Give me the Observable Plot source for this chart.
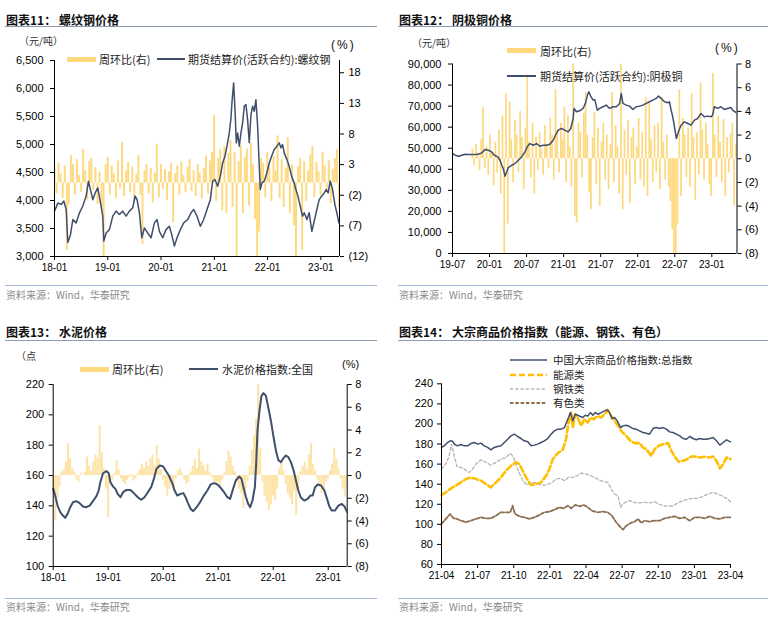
<!DOCTYPE html>
<html><head><meta charset="utf-8">
<script src="https://cdn.jsdelivr.net/npm/d3@7"></script>
<script src="https://cdn.jsdelivr.net/npm/@observablehq/plot@0.6"></script>
<style>
html,body{margin:0;padding:0;background:#fff;}
#root{position:relative;width:778px;height:618px;overflow:hidden;background:#fff;}
.t{position:absolute;white-space:nowrap;line-height:1;transform:translateY(-50%);}
.abs{position:absolute;}
</style></head><body><div id="root"></div>
<script>
// ===== Panel 11: rebar =====
const rebarPrice = [[2018.000,3810],[2018.063,3955],[2018.125,3930],[2018.175,3990],[2018.219,3840],[2018.250,3250],[2018.300,3390],[2018.344,3660],[2018.406,3600],[2018.469,3780],[2018.531,3900],[2018.594,4080],[2018.638,4345],[2018.675,4195],[2018.719,4015],[2018.763,4135],[2018.813,4225],[2018.863,3960],[2018.906,3720],[2018.925,3275],[2018.969,3420],[2019.031,3480],[2019.094,3720],[2019.156,3810],[2019.219,3750],[2019.281,3810],[2019.344,3720],[2019.406,3810],[2019.469,3870],[2019.513,4080],[2019.550,4015],[2019.594,3780],[2019.638,3335],[2019.688,3510],[2019.750,3420],[2019.813,3335],[2019.875,3600],[2019.925,3660],[2019.969,3450],[2020.031,3335],[2020.094,3480],[2020.156,3540],[2020.200,3395],[2020.250,3185],[2020.300,3335],[2020.363,3480],[2020.425,3600],[2020.500,3660],[2020.563,3780],[2020.613,3840],[2020.675,3720],[2020.738,3540],[2020.800,3660],[2020.863,3840],[2020.925,4015],[2020.969,4345],[2021.013,4375],[2021.063,4255],[2021.113,4435],[2021.156,4670],[2021.200,4790],[2021.238,4970],[2021.281,5205],[2021.313,5475],[2021.331,5745],[2021.363,6100],[2021.388,5625],[2021.413,5030],[2021.438,5205],[2021.469,4970],[2021.500,5205],[2021.531,5385],[2021.563,5685],[2021.594,5715],[2021.625,5445],[2021.656,5030],[2021.688,5535],[2021.719,5685],[2021.750,5595],[2021.781,5800],[2021.813,5325],[2021.844,4610],[2021.863,4195],[2021.894,4315],[2021.938,4345],[2021.988,4495],[2022.031,4670],[2022.075,4790],[2022.125,4910],[2022.175,4970],[2022.219,5030],[2022.250,4940],[2022.281,5000],[2022.313,4850],[2022.363,4730],[2022.406,4610],[2022.450,4435],[2022.500,4315],[2022.531,4195],[2022.563,4105],[2022.613,3900],[2022.656,3720],[2022.688,3780],[2022.738,3660],[2022.781,3780],[2022.831,3450],[2022.875,3630],[2022.925,3840],[2022.969,4015],[2023.013,4075],[2023.063,4135],[2023.100,4195],[2023.138,4135],[2023.175,4350],[2023.219,4200],[2023.263,3930],[2023.300,3780],[2023.338,3600]];
const rebarWoW = [2.5,-1.8,3.2,1.5,-2.5,2.8,-11.0,-3.5,4.5,3.0,
-2.0,3.8,1.2,-1.5,5.5,2.0,-2.8,3.5,4.0,-1.2,
2.5,-3.5,1.8,-4.0,-12.0,3.0,4.2,-2.0,2.8,1.5,
-2.5,3.6,-1.0,6.6,-2.2,2.0,3.4,-1.6,2.6,-3.0,
1.4,4.5,-2.0,-10.0,2.0,3.0,-1.8,2.4,-3.2,1.6,
6.3,-2.4,3.0,-1.0,2.2,-2.8,1.8,3.2,-6.5,1.5,
2.8,-2.0,3.4,1.2,-1.6,2.6,3.8,-1.4,2.0,-2.2,
3.0,1.6,-2.6,2.4,4.4,-1.8,3.6,5.0,11.0,-3.0,
4.0,5.5,-4.5,6.0,-5.0,4.8,7.0,-4.0,5.0,-12.0,
3.5,6.0,-5.0,4.2,5.5,-3.8,6.5,3.0,-6.0,-12.0,
-8.0,4.0,3.2,-2.4,5.0,2.6,-3.0,4.4,2.0,7.7,
-2.5,3.8,-4.0,2.4,7.4,-5.0,3.0,-7.0,-12.0,2.6,
4.0,-11.0,3.5,-3.0,2.0,4.6,6.0,-2.4,3.4,1.8,
-2.0,5.0,2.8,-1.6,3.6,-3.4,2.2,4.0,5.5,-4.0];
const rebarXTicks = [2018,2019,2020,2021,2022,2023];
const rebarXLabels = ["18-01","19-01","20-01","21-01","22-01","23-01"];
const rebarRTicks = [18,13,8,3,-2,-7,-12];
const rebarRLabels = ["18","13","8","3","(2)","(7)","(12)"];

// ===== Panel 12: copper =====
const copperPrice = [[2019.500,47460],[2019.536,46670],[2019.581,46190],[2019.626,46670],[2019.670,47140],[2019.715,46980],[2019.783,46980],[2019.850,47140],[2019.895,47780],[2019.939,49370],[2019.984,49050],[2020.029,48250],[2020.065,46670],[2020.096,46190],[2020.119,45560],[2020.141,44290],[2020.164,41900],[2020.186,40320],[2020.209,36670],[2020.231,38730],[2020.253,40790],[2020.298,41900],[2020.343,42700],[2020.388,44290],[2020.433,45870],[2020.478,48250],[2020.513,50950],[2020.545,52220],[2020.590,51430],[2020.635,52220],[2020.679,50950],[2020.724,51430],[2020.769,51430],[2020.814,51900],[2020.859,53810],[2020.890,56190],[2020.926,58570],[2020.971,59370],[2021.016,58570],[2021.061,57780],[2021.096,59370],[2021.128,64130],[2021.141,68890],[2021.173,67300],[2021.217,67780],[2021.262,68890],[2021.294,71270],[2021.321,75240],[2021.339,76830],[2021.365,74760],[2021.397,72860],[2021.419,73170],[2021.455,68100],[2021.487,68890],[2021.531,69680],[2021.576,70480],[2021.621,68890],[2021.666,69680],[2021.711,69680],[2021.756,71270],[2021.778,76030],[2021.800,71270],[2021.845,70480],[2021.890,70000],[2021.935,68410],[2021.980,69680],[2022.025,70000],[2022.070,70480],[2022.114,71270],[2022.159,72060],[2022.204,72860],[2022.249,73650],[2022.280,74760],[2022.316,73650],[2022.361,72060],[2022.406,71590],[2022.428,72060],[2022.451,68100],[2022.473,64920],[2022.496,60160],[2022.522,54600],[2022.549,57780],[2022.585,60950],[2022.630,62540],[2022.675,61750],[2022.720,60950],[2022.765,63330],[2022.809,64130],[2022.854,66510],[2022.899,64920],[2022.944,65240],[2022.989,64920],[2023.011,65710],[2023.034,69680],[2023.078,68890],[2023.123,69680],[2023.168,68410],[2023.213,68890],[2023.258,69370],[2023.280,68100],[2023.325,66980]];
const copperWoW = [0.8,-0.6,1.2,0.5,-1.0,1.6,4.3,-0.8,1.0,-1.4,
2.0,0.6,-2.3,1.4,-1.2,2.4,-3.0,3.6,-8.5,5.5,
-5.5,4.8,1.6,-2.0,3.2,2.0,-1.2,4.0,1.8,-2.6,
2.6,7.1,1.4,-1.6,3.0,-3.0,1.8,-1.0,2.2,0.8,
-1.4,2.8,1.2,-0.8,3.4,2.0,-1.8,5.8,2.4,-1.2,
3.0,1.6,4.4,-2.0,3.6,1.0,-2.4,8.2,-4.9,-5.4,
3.0,2.2,-1.6,3.8,5.6,2.0,-2.8,-4.3,1.8,3.9,
-2.2,2.6,-4.0,1.4,3.0,-1.8,2.0,-2.6,1.2,5.6,
-2.0,2.8,1.0,-3.0,8.5,-4.3,2.4,-1.4,3.2,-3.8,
1.8,2.6,-2.2,1.0,3.4,-1.8,2.2,-2.4,5.2,-3.2,
4.7,1.6,-2.0,2.8,-1.2,3.0,-2.6,5.2,1.4,-1.8,
2.0,-2.4,-3.6,-6.0,-8.5,-8.5,-5.5,5.8,-3.2,3.4,
2.0,-1.6,2.6,-2.4,5.5,1.8,-3.5,2.2,-1.4,6.4,
2.4,-1.8,3.0,1.2,-2.2,-3.2,7.2,2.0,-1.6,3.6,
1.4,-2.0,3.3,-3.2,1.8,-1.2,2.1,3.0,-4.0,1.2];
const copperXTicks = [2019.5,2020,2020.5,2021,2021.5,2022,2022.5,2023];
const copperXLabels = ["19-07","20-01","20-07","21-01","21-07","22-01","22-07","23-01"];
const pctTicks8 = [8,6,4,2,0,-2,-4,-6,-8];
const pctLabels8 = ["8","6","4","2","0","(2)","(4)","(6)","(8)"];

// ===== Panel 13: cement =====
const cementIdx = [[2018.000,151.2],[2018.036,146.8],[2018.079,140.2],[2018.128,135.8],[2018.176,133.6],[2018.219,132.1],[2018.261,134.7],[2018.310,139.1],[2018.359,142.4],[2018.419,143.1],[2018.480,141.8],[2018.541,139.6],[2018.602,139.1],[2018.663,140.2],[2018.723,143.1],[2018.784,146.2],[2018.827,150.1],[2018.857,155.6],[2018.906,161.5],[2018.967,162.9],[2019.009,161.5],[2019.040,155.6],[2019.088,152.7],[2019.131,151.2],[2019.173,147.9],[2019.222,145.7],[2019.271,149.0],[2019.331,150.5],[2019.404,150.5],[2019.465,148.4],[2019.538,145.7],[2019.599,144.0],[2019.660,145.7],[2019.720,149.0],[2019.781,152.3],[2019.830,157.8],[2019.878,164.4],[2019.939,166.6],[2020.000,165.9],[2020.043,163.3],[2020.103,160.0],[2020.164,155.0],[2020.207,150.1],[2020.255,146.8],[2020.316,147.9],[2020.365,148.4],[2020.407,145.7],[2020.450,141.8],[2020.498,138.0],[2020.547,136.5],[2020.608,139.1],[2020.669,142.4],[2020.729,146.2],[2020.802,150.1],[2020.863,154.1],[2020.924,155.0],[2020.985,154.1],[2021.046,151.9],[2021.106,149.0],[2021.167,145.7],[2021.216,144.6],[2021.258,149.7],[2021.319,156.7],[2021.380,159.3],[2021.422,157.8],[2021.459,152.3],[2021.502,146.2],[2021.544,141.3],[2021.581,139.1],[2021.623,143.5],[2021.666,152.3],[2021.690,167.7],[2021.714,189.7],[2021.751,202.9],[2021.787,212.7],[2021.824,214.3],[2021.866,212.7],[2021.909,205.1],[2021.957,196.3],[2022.006,185.3],[2022.049,176.5],[2022.091,170.3],[2022.140,168.8],[2022.188,171.6],[2022.231,173.2],[2022.274,172.1],[2022.322,168.8],[2022.371,163.3],[2022.413,156.7],[2022.456,150.1],[2022.505,145.3],[2022.565,143.5],[2022.626,144.6],[2022.675,146.8],[2022.717,146.8],[2022.760,152.3],[2022.809,154.1],[2022.869,153.4],[2022.930,150.1],[2022.979,144.6],[2023.021,139.6],[2023.064,136.9],[2023.125,136.9],[2023.185,140.2],[2023.246,141.3],[2023.295,139.6],[2023.343,135.8]];
const cementWoW = [-1.5,-4.0,-2.0,-1.0,0.3,0.5,1.2,2.8,1.5,0.6,
0.3,-0.4,-0.6,0.2,0.0,0.3,1.6,0.8,0.4,1.2,
1.8,1.5,4.4,2.0,0.6,-1.2,-3.7,-0.8,-0.4,0.2,
1.3,0.5,-0.3,-0.6,-0.8,-0.4,-0.2,0.1,-0.5,-0.3,
0.2,0.5,1.0,0.6,1.2,0.8,1.5,1.8,0.9,2.6,
1.4,0.5,-0.4,-1.0,-1.8,-1.2,-0.6,-1.4,-0.3,0.4,
0.6,0.2,-0.4,-0.8,-0.6,0.3,0.8,1.4,0.6,2.3,
1.2,0.9,0.4,1.0,0.3,-0.2,-0.5,-0.8,-0.6,-1.0,
-0.4,0.2,1.2,2.1,1.6,0.8,0.3,-0.6,-1.2,-1.6,
-2.9,-1.4,-0.5,0.8,2.2,3.5,5.0,8.2,2.4,-0.6,
-1.8,-2.4,-3.1,-2.6,-1.8,-2.2,-1.2,0.6,1.2,0.4,
-0.8,-1.6,-2.0,-2.6,-1.4,-3.5,-1.2,0.3,0.8,1.2,
0.5,1.8,2.8,1.0,0.4,-0.4,-0.8,-1.6,-1.2,-0.6,
-0.3,0.4,1.0,2.4,1.4,0.6,-0.3,-1.2,-1.9,-1.0];

// ===== Panel 14: commodity indices =====
const totalIdx = [[2021.250,176.6],[2021.268,178.2],[2021.292,181.5],[2021.310,183.2],[2021.326,182.8],[2021.342,179.5],[2021.361,178.2],[2021.384,179.5],[2021.407,178.2],[2021.430,178.2],[2021.453,180.5],[2021.477,181.5],[2021.500,179.9],[2021.523,180.9],[2021.546,178.2],[2021.569,176.6],[2021.592,174.2],[2021.615,176.6],[2021.638,177.5],[2021.662,178.2],[2021.685,181.5],[2021.708,184.8],[2021.731,188.1],[2021.754,189.8],[2021.777,187.5],[2021.800,185.5],[2021.823,183.2],[2021.847,182.2],[2021.870,178.2],[2021.893,178.9],[2021.916,179.9],[2021.939,181.5],[2021.962,183.2],[2021.985,185.5],[2022.008,189.8],[2022.031,193.1],[2022.055,194.8],[2022.078,194.8],[2022.101,196.4],[2022.124,204.7],[2022.142,211.3],[2022.159,203.1],[2022.175,209.7],[2022.193,208.7],[2022.212,207.4],[2022.228,206.4],[2022.244,208.7],[2022.263,208.0],[2022.281,211.3],[2022.297,208.7],[2022.314,211.3],[2022.332,209.7],[2022.355,211.3],[2022.378,213.0],[2022.397,214.0],[2022.413,211.3],[2022.429,205.4],[2022.448,206.4],[2022.466,203.1],[2022.489,196.4],[2022.506,198.1],[2022.529,198.7],[2022.552,197.4],[2022.575,195.4],[2022.598,194.8],[2022.621,193.1],[2022.644,191.5],[2022.667,190.8],[2022.690,189.8],[2022.714,195.4],[2022.737,196.4],[2022.760,195.4],[2022.783,196.4],[2022.806,194.8],[2022.829,192.1],[2022.852,191.5],[2022.875,189.8],[2022.899,188.1],[2022.922,185.5],[2022.945,184.8],[2022.968,187.5],[2022.991,185.5],[2023.014,184.2],[2023.037,185.5],[2023.060,184.8],[2023.083,184.8],[2023.107,185.5],[2023.130,186.5],[2023.153,183.2],[2023.176,178.9],[2023.199,181.5],[2023.222,184.2],[2023.250,182.2]];
const energyIdx = [[2021.250,129.2],[2021.280,131.9],[2021.315,135.8],[2021.349,138.5],[2021.384,141.8],[2021.419,145.1],[2021.453,146.8],[2021.488,145.1],[2021.523,143.5],[2021.558,140.1],[2021.592,136.8],[2021.627,141.8],[2021.662,146.8],[2021.696,153.4],[2021.731,158.4],[2021.766,161.7],[2021.789,160.0],[2021.812,153.4],[2021.835,146.8],[2021.870,139.1],[2021.904,140.1],[2021.939,141.8],[2021.974,148.4],[2021.997,155.0],[2022.020,165.0],[2022.055,170.9],[2022.089,174.2],[2022.112,184.8],[2022.129,201.4],[2022.147,211.3],[2022.159,196.4],[2022.175,209.7],[2022.193,206.4],[2022.216,198.1],[2022.240,204.7],[2022.263,201.4],[2022.281,206.4],[2022.304,204.7],[2022.327,208.0],[2022.355,206.4],[2022.378,209.7],[2022.401,214.0],[2022.425,208.0],[2022.448,203.1],[2022.471,198.1],[2022.499,192.1],[2022.529,188.1],[2022.559,183.2],[2022.586,180.9],[2022.621,180.9],[2022.644,176.6],[2022.667,174.9],[2022.702,168.3],[2022.725,174.9],[2022.753,178.2],[2022.790,179.9],[2022.818,180.9],[2022.841,173.2],[2022.868,166.6],[2022.892,162.3],[2022.922,163.3],[2022.952,165.0],[2022.979,167.6],[2023.003,167.6],[2023.037,166.6],[2023.072,167.3],[2023.100,166.6],[2023.130,167.6],[2023.153,163.3],[2023.176,155.7],[2023.199,160.0],[2023.222,166.6],[2023.250,165.0]];
const steelIdx = [[2021.250,155.0],[2021.280,160.0],[2021.303,168.3],[2021.319,179.9],[2021.338,168.3],[2021.356,157.7],[2021.384,156.7],[2021.407,155.0],[2021.442,151.7],[2021.465,155.0],[2021.488,160.0],[2021.523,164.3],[2021.558,161.7],[2021.592,159.0],[2021.627,161.7],[2021.662,165.0],[2021.696,166.6],[2021.726,170.9],[2021.749,166.6],[2021.777,155.0],[2021.812,143.5],[2021.842,139.1],[2021.870,141.8],[2021.904,141.1],[2021.939,139.1],[2021.974,139.1],[2022.008,141.1],[2022.043,145.1],[2022.073,145.8],[2022.101,143.5],[2022.129,146.8],[2022.159,146.8],[2022.189,148.4],[2022.216,151.1],[2022.251,150.1],[2022.286,148.4],[2022.321,145.8],[2022.351,143.5],[2022.378,142.5],[2022.401,141.8],[2022.425,135.2],[2022.448,130.2],[2022.471,128.5],[2022.489,117.0],[2022.506,120.3],[2022.529,122.6],[2022.552,123.6],[2022.586,121.9],[2022.621,121.3],[2022.656,121.9],[2022.690,121.3],[2022.725,122.6],[2022.753,120.3],[2022.783,118.6],[2022.818,118.0],[2022.852,118.6],[2022.887,121.3],[2022.922,123.6],[2022.956,125.2],[2022.991,125.9],[2023.026,125.9],[2023.060,127.9],[2023.095,130.2],[2023.130,131.9],[2023.160,130.2],[2023.188,128.5],[2023.222,125.9],[2023.250,122.6]];
const nonferrousIdx = [[2021.250,100.4],[2021.280,105.4],[2021.310,110.3],[2021.333,106.0],[2021.356,105.4],[2021.384,103.7],[2021.419,102.1],[2021.453,103.7],[2021.488,105.4],[2021.523,107.0],[2021.558,106.0],[2021.592,106.0],[2021.627,108.7],[2021.662,112.0],[2021.696,112.0],[2021.726,112.0],[2021.742,118.6],[2021.759,110.3],[2021.789,108.0],[2021.823,107.0],[2021.858,105.4],[2021.893,107.0],[2021.927,109.3],[2021.962,112.0],[2021.997,112.6],[2022.031,114.6],[2022.066,117.0],[2022.096,116.0],[2022.124,118.6],[2022.147,116.0],[2022.175,119.3],[2022.205,118.0],[2022.235,119.3],[2022.263,117.0],[2022.290,113.6],[2022.327,112.0],[2022.367,112.6],[2022.401,112.0],[2022.429,108.7],[2022.459,102.1],[2022.489,97.1],[2022.506,94.8],[2022.529,98.7],[2022.559,101.4],[2022.586,102.7],[2022.610,105.4],[2022.633,101.4],[2022.656,103.7],[2022.690,102.7],[2022.725,103.7],[2022.760,103.7],[2022.795,106.0],[2022.829,107.0],[2022.864,108.0],[2022.899,106.0],[2022.933,107.0],[2022.968,103.7],[2023.003,107.0],[2023.037,107.0],[2023.072,106.0],[2023.107,108.0],[2023.141,106.0],[2023.176,105.4],[2023.211,107.0],[2023.250,107.0]];
const idxXTicks = [2021.25,2021.5,2021.75,2022,2022.25,2022.5,2022.75,2023,2023.25];
const idxXLabels = ["21-04","21-07","21-10","22-01","22-04","22-07","22-10","23-01","23-04"];

// ===== rendering =====
const root = document.getElementById("root");
const CJK = '"Noto Sans CJK SC", "Noto Sans", sans-serif';
const LAT = '"Liberation Sans", Arial, sans-serif';
const NAVY = "#404f6c";
const BAR = "#fdd87c";

function text(str, x, y, o = {}) {
  const d = document.createElement("div");
  d.className = "t"; d.textContent = str;
  d.style.left = x + "px"; d.style.top = y + "px";
  d.style.fontFamily = o.font || CJK;
  d.style.fontSize = (o.size || 11) + "px";
  d.style.color = o.color || "#222";
  if (o.bold) d.style.fontWeight = "bold";
  if (o.ls) d.style.letterSpacing = o.ls + "px";
  root.appendChild(d);
}
function box(x, y, w, h, color) {
  const d = document.createElement("div");
  d.className = "abs";
  Object.assign(d.style, {left: x + "px", top: y + "px", width: w + "px", height: h + "px", background: color});
  root.appendChild(d);
}
function dashSwatch(x, y, w, color, sw, dash) {
  const ns = "http://www.w3.org/2000/svg";
  const s = document.createElementNS(ns, "svg");
  s.setAttribute("width", w); s.setAttribute("height", 8);
  s.style.position = "absolute"; s.style.left = x + "px"; s.style.top = (y - 4) + "px";
  const l = document.createElementNS(ns, "line");
  l.setAttribute("x1", 0); l.setAttribute("x2", w); l.setAttribute("y1", 4); l.setAttribute("y2", 4);
  l.setAttribute("stroke", color); l.setAttribute("stroke-width", sw);
  if (dash) l.setAttribute("stroke-dasharray", dash);
  s.appendChild(l); root.appendChild(s);
}
function place(svg, x, y) {
  svg.style.position = "absolute"; svg.style.left = x + "px"; svg.style.top = y + "px";
  root.appendChild(svg);
}
const styleBase = {fontFamily: LAT, fontSize: "11px", color: "#000", background: "transparent", overflow: "visible", maxWidth: "none"};

function dual(p) {
  const base = {width: p.w, height: p.h, marginLeft: p.ml, marginRight: p.mr, marginTop: p.mt, marginBottom: p.mb, style: styleBase};
  const bars = p.barVals.map((v, i) => ({t: p.barStart + i * p.barStep, v}));
  const back = Plot.plot({...base,
    x: {type: "linear", domain: p.xDomain, axis: null},
    y: {domain: p.yR},
    marks: [
      Plot.ruleX(bars, {x: "t", y1: 0, y2: "v", stroke: p.barColor, strokeWidth: p.barW, clip: true}),
      Plot.axisY({anchor: "right", ticks: p.yRTicks, tickFormat: d => p.yRLabels[p.yRTicks.indexOf(d)], tickSize: 4, tickPadding: p.rpad, label: null, fontSize: 11}),
      Plot.ruleX([p.xDomain[1]], {stroke: "#000", strokeWidth: 1})
    ]});
  const front = Plot.plot({...base,
    x: {type: "linear", domain: p.xDomain},
    y: {domain: p.yL},
    marks: [
      Plot.line(p.line, {x: d => d[0], y: d => d[1], stroke: NAVY, strokeWidth: p.lineW, strokeLinejoin: "round"}),
      Plot.ruleX([p.xDomain[0]], {stroke: "#000"}),
      Plot.ruleY([p.yL[0]], {stroke: "#000"}),
      Plot.axisY({anchor: "left", ticks: p.yLTicks, tickFormat: p.yLFmt, tickSize: 4, tickPadding: p.lpad, label: null, fontSize: 11}),
      Plot.axisX({ticks: p.xTicks, tickFormat: d => p.xLabels[p.xTicks.indexOf(d)], tickSize: 4, tickPadding: 3, label: null, fontSize: 10})
    ]});
  place(back, p.x0, p.y0);
  place(front, p.x0, p.y0);
}

// Panel 11
dual({x0: 0, y0: 0, w: 390, h: 280, ml: 54, mr: 51, mt: 60, mb: 24,
  xDomain: [2018, 2023.35], xTicks: rebarXTicks, xLabels: rebarXLabels,
  yL: [3000, 6500], yLTicks: d3.range(3000, 6501, 500), yLFmt: d3.format(","), lpad: 7,
  yR: [-12, 20], yRTicks: rebarRTicks, yRLabels: rebarRLabels, rpad: 5,
  barVals: rebarWoW, barStart: 2018.0, barStep: 5.34 / 139, barColor: BAR, barW: 1.9,
  line: rebarPrice, lineW: 1.5});

// Panel 12
dual({x0: 390, y0: 0, w: 388, h: 280, ml: 62, mr: 41.5, mt: 63.5, mb: 27,
  xDomain: [2019.5, 2023.34], xTicks: copperXTicks, xLabels: copperXLabels,
  yL: [0, 90000], yLTicks: d3.range(0, 90001, 10000), yLFmt: d3.format(","), lpad: 7,
  yR: [-8, 8], yRTicks: pctTicks8, yRLabels: pctLabels8, rpad: 4,
  barVals: copperWoW, barStart: 2019.769, barStep: 3.556 / 149, barColor: BAR, barW: 1.7,
  line: copperPrice, lineW: 1.5});

// Panel 13
dual({x0: 0, y0: 310, w: 390, h: 285, ml: 52.7, mr: 43.3, mt: 74, mb: 29,
  xDomain: [2018, 2023.345], xTicks: rebarXTicks, xLabels: rebarXLabels,
  yL: [100, 220], yLTicks: d3.range(100, 221, 20), yLFmt: d => String(d), lpad: 5,
  yR: [-8, 8], yRTicks: pctTicks8, yRLabels: pctLabels8, rpad: 4,
  barVals: cementWoW, barStart: 2018.0, barStep: 5.34 / 139, barColor: "#fde3a6", barW: 2,
  line: cementIdx, lineW: 2});

// Panel 14
const p14 = Plot.plot({width: 388, height: 285, marginLeft: 51, marginRight: 48, marginTop: 73.3, marginBottom: 31, style: styleBase,
  x: {type: "linear", domain: [2021.25, 2023.25]},
  y: {domain: [60, 240]},
  marks: [
    Plot.line(nonferrousIdx, {x: d => d[0], y: d => d[1], stroke: "#8c6d4f", strokeWidth: 1.8, strokeDasharray: "3.5,1.8"}),
    Plot.line(steelIdx, {x: d => d[0], y: d => d[1], stroke: "#b3b3b3", strokeWidth: 1.3, strokeDasharray: "3,2.3"}),
    Plot.line(energyIdx, {x: d => d[0], y: d => d[1], stroke: "#ffbf00", strokeWidth: 2.6, strokeDasharray: "6,3"}),
    Plot.line(totalIdx, {x: d => d[0], y: d => d[1], stroke: NAVY, strokeWidth: 1.5}),
    Plot.ruleX([2021.25], {stroke: "#000"}),
    Plot.ruleY([60], {stroke: "#000"}),
    Plot.axisY({anchor: "left", ticks: d3.range(60, 241, 20), tickSize: 4, tickPadding: 4.5, label: null, fontSize: 11}),
    Plot.axisX({ticks: idxXTicks, tickFormat: d => idxXLabels[idxXTicks.indexOf(d)], tickSize: 4, tickPadding: 3, label: null, fontSize: 10})
  ]});
place(p14, 390, 310);

// ===== titles, rules, units, legends, sources =====
const TOPRULE = "#8d9bb3", BOTRULE = "#a3b6d6", SRC = "#8a8a8a";
// Panel 11
text("图表11： 螺纹钢价格", 6, 19.5, {size: 12, bold: true, color: "#111"});
box(5, 26, 372, 1, TOPRULE);
text("（元/吨）", 19, 40.7, {size: 10, color: "#333"});
text("(%)", 331, 45, {font: LAT, size: 12, ls: 2, color: "#111"});
box(67, 56.7, 29, 5, BAR);
text("周环比(右)", 99, 59.3, {size: 11});
box(157, 58.3, 28, 2, NAVY);
text("期货结算价(活跃合约):螺纹钢", 188, 59.3, {size: 11});
box(5, 284.5, 372, 1, BOTRULE);
text("资料来源：Wind，华泰研究", 6, 294.5, {size: 10, color: SRC});
// Panel 12
text("图表12： 阴极铜价格", 399, 19.5, {size: 12, bold: true, color: "#111"});
box(398, 26, 370, 1, TOPRULE);
text("（元/吨）", 412, 43.3, {size: 10, color: "#333"});
text("(%)", 715, 48.3, {font: LAT, size: 12, ls: 2, color: "#111"});
box(507, 48.3, 29, 5, BAR);
text("周环比(右)", 540, 51, {size: 11});
box(507, 75, 29, 2, NAVY);
text("期货结算价(活跃合约):阴极铜", 540, 76, {size: 11});
box(398, 284.5, 370, 1, BOTRULE);
text("资料来源：Wind，华泰研究", 399, 294.5, {size: 10, color: SRC});
// Panel 13
text("图表13： 水泥价格", 6, 332, {size: 12, bold: true, color: "#111"});
box(5, 339.5, 372, 1, TOPRULE);
text("（点", 16, 356, {size: 10, color: "#333"});
text("(%)", 342, 364, {font: LAT, size: 11, color: "#111"});
box(80, 366.7, 29, 5, "#fdd87c");
text("周环比(右)", 112, 369.3, {size: 11});
box(189, 367.8, 29, 2.5, NAVY);
text("水泥价格指数:全国", 222, 369.3, {size: 11});
box(5, 597.5, 372, 1, BOTRULE);
text("资料来源：Wind，华泰研究", 6, 606.7, {size: 10, color: SRC});
// Panel 14
text("图表14： 大宗商品价格指数（能源、钢铁、有色）", 399, 332, {size: 12, bold: true, color: "#111"});
box(398, 339.5, 370, 1, TOPRULE);
dashSwatch(510, 360, 37, NAVY, 1.6, null);
text("中国大宗商品价格指数:总指数", 553, 360, {size: 10.5});
dashSwatch(510, 375, 37, "#ffbf00", 2.6, "6,3");
text("能源类", 553, 375, {size: 10.5});
dashSwatch(510, 389, 37, "#b3b3b3", 1.3, "3,2.3");
text("钢铁类", 553, 389, {size: 10.5});
dashSwatch(510, 403, 37, "#8c6d4f", 1.8, "3.5,1.8");
text("有色类", 553, 403, {size: 10.5});
box(398, 597.5, 370, 1, BOTRULE);
text("资料来源：Wind，华泰研究", 399, 606.7, {size: 10, color: SRC});
</script></body></html>
